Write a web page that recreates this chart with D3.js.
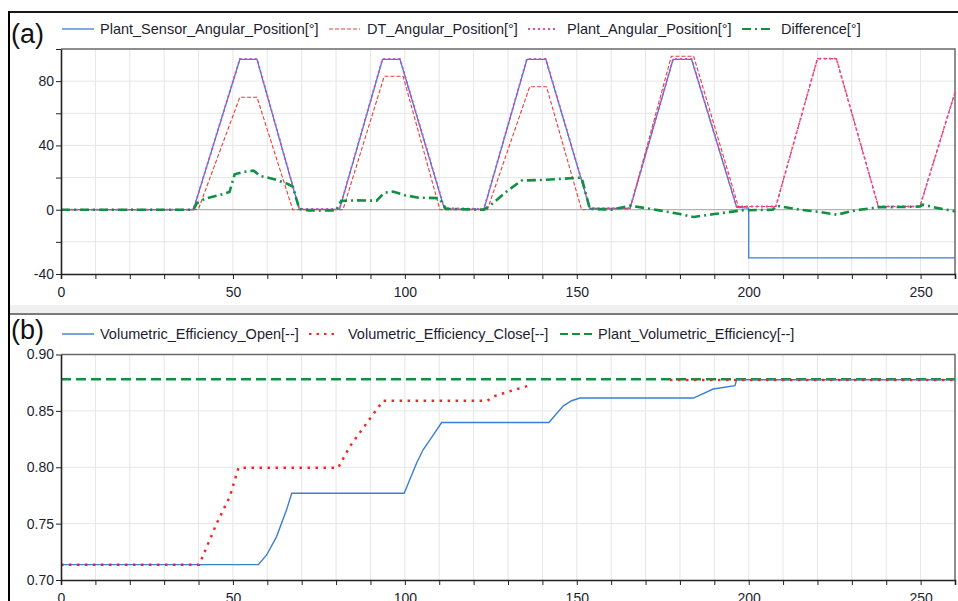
<!DOCTYPE html>
<html>
<head>
<meta charset="utf-8">
<script src="https://cdn.jsdelivr.net/npm/d3@7"></script>
<style>
  body { margin: 0; background: #fff; }
  svg { display: block; font-family: "Liberation Sans", Arial, sans-serif; }
  .grid line { stroke: #e6e6e6; stroke-width: 1; }
  .axis text { fill: #1e1e30; font-size: 14px; }
  .axis path, .axis line { stroke: #222; }
  .legend text { fill: #1e1e30; font-size: 14.5px; }
</style>
</head>
<body>
<div id="chart"></div>
<script>
// ---- data ----
var xTicks = [0, 50, 100, 150, 200, 250];
var angleTicks = [-40, 0, 40, 80];
var effTicks = [0.70, 0.75, 0.80, 0.85, 0.90];

var sensorAngle = [[0,0],[38.5,0],[52,93.5],[57,93.5],[69.3,0.3],[81,0.2],[93.5,93.5],[98.6,93.5],
  [111.5,0.5],[123,0.2],[135.5,93.5],[141,93.5],[153.8,0.8],[165.5,0.8],[178,93.5],[183.4,93.5],
  [196.5,1.5],[200,1],[200,-30],[260,-30]];

var dtAngle = [[0,0],[39,0],[40,0.5],[52,70],[57,70],[67.4,0],[82,0],[94,83],[99.5,83],[110.2,0],
  [124,0],[136.3,76.5],[141.2,76.5],[151.4,0],[158,0.5],[165.5,0.5],[177.5,95.5],[184,95.5],[197,2],
  [207.9,2],[220,94],[225.5,94],[237.7,2],[249.8,2],[260,73]];

var plantAngle = [[0,0],[38.5,0],[52,93.8],[57,93.8],[69.3,0.5],[81,0.5],[93.5,93.8],[98.6,93.8],
  [111.5,1],[123,0.5],[135.5,93.8],[141,93.8],[153.8,1],[165.5,1],[178,93.8],[183.4,93.8],[196.5,2],
  [207.9,2],[220,94],[225.5,94],[237.7,2],[249.8,2],[260,73]];

var diffAngle = [[0,0],[38.5,0],[39.5,4],[42,7],[46,9],[49,11],[50.5,22],[53,23.5],[56,24.3],[58,21],
  [62,19],[66,16],[67.4,14.4],[69.3,0.5],[72,-0.5],[80,-0.5],[81.5,5.5],[86,5.8],[91.8,5.6],[94,10.5],
  [96.5,11.3],[100,9],[104,7.5],[110,7.2],[112,0.5],[123,0],[125,3],[130,12],[134,18.2],[140,18.5],
  [144,19],[151.4,20],[153.8,0.5],[160,0],[165.5,2.5],[170,1],[174,-0.4],[180,-2.7],[184,-4.5],
  [190,-2.7],[198,-0.4],[207,0],[208.1,2.5],[215,0],[221,-1.5],[225.6,-3.1],[231,-0.4],[238,1.6],
  [242,1.6],[249.8,2],[250.7,3.1],[255,1],[260,-1]];

var effOpen = [[0,0.7136],[57.4,0.7136],[59.8,0.7222],[62.7,0.7385],[65.6,0.7622],[67.1,0.777],
  [99.8,0.777],[103.4,0.8036],[105.3,0.8155],[107.3,0.8243],[110.7,0.8397],[141.9,0.8397],
  [146.1,0.8545],[148.5,0.859],[150.9,0.8614],[183.9,0.8614],[189.7,0.8694],[196,0.8723],
  [196.5,0.8776],[260,0.8776]];

var effClose = [[0,0.7136],[40.2,0.7136],[45.3,0.7503],[49.1,0.774],[51.6,0.7995],[80.6,0.7995],
  [84,0.8184],[88.9,0.8392],[93.7,0.859],[124,0.859],[126,0.863],[130,0.867],[136,0.8723],
  null,[177.1,0.8773],[260,0.8773]];

var effPlant = [[0,0.878],[260,0.878]];

// ---- layout ----
var width = 958, height = 601;
var svg = d3.select('#chart').append('svg')
  .attr('width', width).attr('height', height);

// outer frame
svg.append('rect').attr('x', 10).attr('y', 305).attr('width', 948).attr('height', 8).attr('fill', '#f0f0f0');
svg.append('line').attr('x1', 10).attr('x2', 958).attr('y1', 314).attr('y2', 314)
  .attr('stroke', '#7a7a7a').attr('stroke-width', 2);
svg.append('line').attr('x1', 9).attr('x2', 958).attr('y1', 12).attr('y2', 12)
  .attr('stroke', '#1a1a1a').attr('stroke-width', 2);
svg.append('line').attr('x1', 9).attr('x2', 9).attr('y1', 11).attr('y2', 601)
  .attr('stroke', '#000').attr('stroke-width', 2);

var styles = {
  sensor: { color: '#3a7fd5', width: 1.3, dash: null },
  dt: { color: '#f03c3c', width: 1.1, dash: '4,2' },
  plant: { color: '#e048b8', width: 1.8, dash: '2,3' },
  diff: { color: '#119044', width: 2.6, dash: '9,4,2,4' },
  open: { color: '#3a7fd5', width: 1.4, dash: null },
  close: { color: '#f02828', width: 2.5, dash: '2.5,5.5' },
  plantEff: { color: '#119044', width: 2.6, dash: '10,5' }
};
var legendDash = { plantEff: '8,4', close: '2.5,5' };

function panel(opt) {
  var x = d3.scaleLinear().domain([0, 260]).range([61, 955]);
  var y = d3.scaleLinear().domain(opt.yDomain).range([opt.bottom, opt.top]);
  var g = svg.append('g');

  // grid
  var grid = g.append('g').attr('class', 'grid');
  grid.selectAll('.gx').data(d3.range(10, 260, 10)).enter().append('line')
    .attr('x1', x).attr('x2', x).attr('y1', opt.top).attr('y2', opt.bottom);
  grid.selectAll('.gy').data(opt.yGrid).enter().append('line')
    .attr('x1', 61).attr('x2', 955).attr('y1', y).attr('y2', y);
  if (opt.zeroLine) {
    g.append('line').attr('x1', 61).attr('x2', 955).attr('y1', y(0)).attr('y2', y(0))
      .attr('stroke', '#b4b4b4').attr('stroke-width', 1.2);
  }

  // border top/right
  g.append('path').attr('d', 'M61,' + opt.top + 'H955V' + opt.bottom)
    .attr('fill', 'none').attr('stroke', '#6a6a6a').attr('stroke-width', 1.5);

  // series
  var line = d3.line().defined(function (d) { return d !== null; })
    .x(function (d) { return x(d[0]); }).y(function (d) { return y(d[1]); });
  opt.series.forEach(function (s) {
    var st = styles[s.style];
    g.append('path').datum(s.data)
      .attr('d', line)
      .attr('fill', 'none')
      .attr('stroke', st.color)
      .attr('stroke-width', st.width)
      .attr('stroke-dasharray', st.dash);
  });

  // axes
  var xAxis = d3.axisBottom(x).tickValues(d3.range(0, 261, 10)).tickSize(5)
    .tickFormat(function (d) { return xTicks.indexOf(d) >= 0 ? d : ''; });
  g.append('g').attr('class', 'axis').attr('transform', 'translate(0,' + opt.bottom + ')')
    .call(xAxis)
    .call(function (a) { a.select('.domain').attr('stroke-width', 1.6); })
    .selectAll('text').attr('dy', '1.05em');

  var yAxis = d3.axisLeft(y).tickValues(opt.yTickAll).tickSize(5).tickSizeOuter(0)
    .tickFormat(function (d) { return opt.yLabels.indexOf(d) >= 0 ? opt.fmt(d) : ''; });
  g.append('g').attr('class', 'axis').attr('transform', 'translate(61,0)')
    .call(yAxis)
    .call(function (a) { a.select('.domain').attr('stroke-width', 1.6); })
    .selectAll('text').attr('x', -7);

  // label
  svg.append('text').attr('x', 11).attr('y', opt.labelY).text(opt.label)
    .attr('font-size', 27).attr('fill', '#111');

  // legend
  var lg = svg.append('g').attr('class', 'legend');
  opt.legend.forEach(function (l) {
    var st = styles[l.style];
    lg.append('line').attr('x1', l.x0).attr('x2', l.x1).attr('y1', opt.legendY).attr('y2', opt.legendY)
      .attr('stroke', st.color).attr('stroke-width', Math.min(st.width, 2.2))
      .attr('stroke-dasharray', legendDash[l.style] || st.dash);
    lg.append('text').attr('x', l.tx).attr('y', opt.legendY + 5).text(l.name);
  });
}

panel({
  top: 49, bottom: 274, yDomain: [-40, 100],
  yGrid: [-20, 20, 40, 60, 80], yTickAll: [-40, -20, 0, 20, 40, 60, 80, 100],
  yLabels: angleTicks, fmt: function (d) { return d; }, zeroLine: true,
  label: '(a)', labelY: 43, legendY: 29,
  series: [
    { data: sensorAngle, style: 'sensor' },
    { data: dtAngle, style: 'dt' },
    { data: plantAngle, style: 'plant' },
    { data: diffAngle, style: 'diff' }
  ],
  legend: [
    { name: 'Plant_Sensor_Angular_Position[°]', style: 'sensor', x0: 62, x1: 94, tx: 100 },
    { name: 'DT_Angular_Position[°]', style: 'dt', x0: 329, x1: 360, tx: 367 },
    { name: 'Plant_Angular_Position[°]', style: 'plant', x0: 528, x1: 557, tx: 567 },
    { name: 'Difference[°]', style: 'diff', x0: 742, x1: 771, tx: 781 }
  ]
});

panel({
  top: 354.5, bottom: 580, yDomain: [0.70, 0.90],
  yGrid: [0.75, 0.80, 0.85], yTickAll: effTicks,
  yLabels: effTicks, fmt: d3.format('.2f'), zeroLine: false,
  label: '(b)', labelY: 339, legendY: 334,
  series: [
    { data: effPlant, style: 'plantEff' },
    { data: effOpen, style: 'open' },
    { data: effClose, style: 'close' }
  ],
  legend: [
    { name: 'Volumetric_Efficiency_Open[--]', style: 'open', x0: 62, x1: 94, tx: 100 },
    { name: 'Volumetric_Efficiency_Close[--]', style: 'close', x0: 309, x1: 338, tx: 348 },
    { name: 'Plant_Volumetric_Efficiency[--]', style: 'plantEff', x0: 560, x1: 592, tx: 598 }
  ]
});
</script>
</body>
</html>
